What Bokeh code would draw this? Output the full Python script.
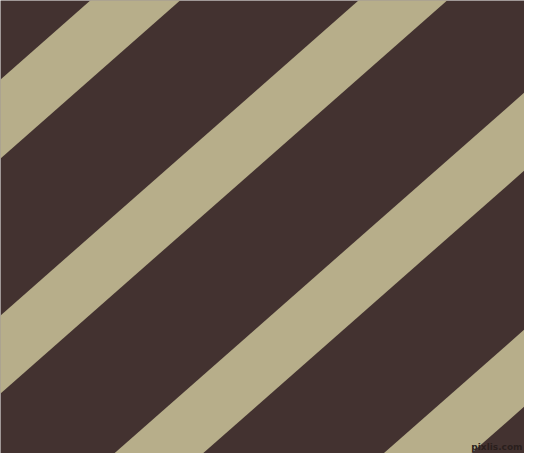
from bokeh.plotting import figure
from bokeh.models import Range1d, ColumnDataSource
from bokeh.core.properties import value
from bokeh.embed import file_html
from bokeh.resources import INLINE

# Stripe data (reference image pixel coordinates, y grows downward)
stripe_starts = [79, 315, 553, 790]   # upper edge intercept at x=0
stripe_ends = [158, 393, 631, 867]    # lower edge intercept at x=0
stripe_slope = 0.88                   # rise per px along the stripe
background_color = "#433230"
stripe_color = "#B7AE8A"
watermark = ["pixlis.com"]

x_lo, x_hi = -100, 700
xs, ys = [], []
for c0, c1 in zip(stripe_starts, stripe_ends):
    xs.append([x_lo, x_hi, x_hi, x_lo])
    ys.append([c0 - stripe_slope * x_lo, c0 - stripe_slope * x_hi,
               c1 - stripe_slope * x_hi, c1 - stripe_slope * x_lo])

src = ColumnDataSource(dict(xs=xs, ys=ys))

p = figure(width=524, height=453, output_backend="svg", toolbar_location=None,
           x_range=Range1d(0, 524), y_range=Range1d(453, 0),
           min_border=0, min_border_left=0, min_border_right=0,
           min_border_top=0, min_border_bottom=0)
p.axis.visible = False
p.grid.visible = False
p.outline_line_color = None
p.background_fill_color = background_color
p.border_fill_color = background_color

p.patches(xs="xs", ys="ys", source=src, fill_color=stripe_color,
          line_color=None)

p.text(x=[522], y=[451], text=watermark, text_align="right",
       text_baseline="bottom", text_font=value("DejaVu Sans"),
       text_font_size="9px", text_font_style="bold", text_color="#2a1f1d")

open("out.html", "w").write(file_html(p, INLINE))
